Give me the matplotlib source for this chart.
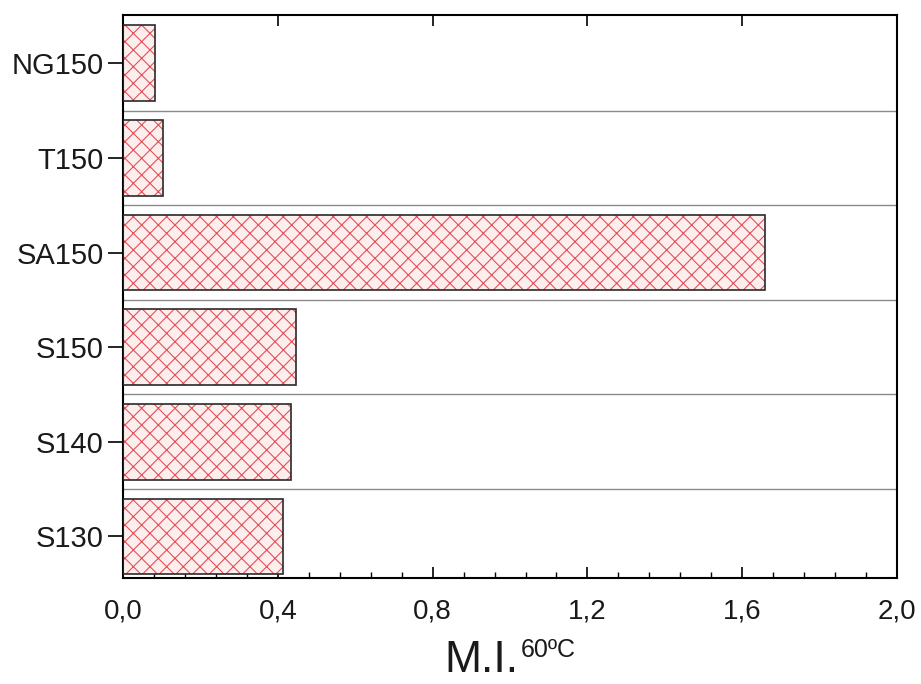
import matplotlib
matplotlib.use("Agg")
import matplotlib.pyplot as plt
from matplotlib.ticker import MultipleLocator, FuncFormatter

plt.rcParams['font.family'] = ['Liberation Sans', 'DejaVu Sans']
plt.rcParams['hatch.linewidth'] = 0.8

categories = ["S130", "S140", "S150", "SA150", "T150", "NG150"]
values = [0.413, 0.434, 0.447, 1.66, 0.103, 0.083]
xticks = [0.0, 0.4, 0.8, 1.2, 1.6, 2.0]

fig = plt.figure(figsize=(9.21, 6.84), dpi=100)
ax = fig.add_axes([0.1336, 0.155, 0.8404, 0.823])

ypos = list(range(len(categories)))
# hatched fill (red hatch lines)
ax.barh(ypos, values, height=0.8, color='#fdeeee', edgecolor='#e4505a',
        linewidth=0, hatch='xx', zorder=2)
# dark outline
ax.barh(ypos, values, height=0.8, fill=False, edgecolor='#2a2a2a',
        linewidth=1.2, zorder=3)

for i in range(len(categories) - 1):
    ax.axhline(i + 0.5, color='#8a8a8a', linewidth=1.0, zorder=1)

ax.set_xlim(0, 2.0)
ax.set_ylim(-0.44, 5.51)
ax.set_yticks(ypos)
ax.set_yticklabels(categories, fontsize=21, color='#1a1a1a')
ax.set_xticks(xticks)
ax.xaxis.set_major_formatter(FuncFormatter(lambda v, p: f"{v:.1f}".replace('.', ',')))
ax.xaxis.set_minor_locator(MultipleLocator(0.08))
ax.tick_params(axis='x', which='major', direction='in', length=8, width=1.2,
               labelsize=20, pad=15, top=True, labelcolor='#1a1a1a')
ax.tick_params(axis='x', which='minor', direction='in', length=4, width=1.0, top=False)
ax.tick_params(axis='y', which='major', direction='out', length=11, width=1.2, pad=3)
for s in ax.spines.values():
    s.set_linewidth(1.5)

fig.text(0.483, 0.005, "M.I.", fontsize=32, ha='left', va='bottom', color='#1a1a1a')
fig.text(0.565, 0.032, "60ºC", fontsize=18, ha='left', va='bottom', color='#1a1a1a')

fig.savefig("out.png", dpi=100)
